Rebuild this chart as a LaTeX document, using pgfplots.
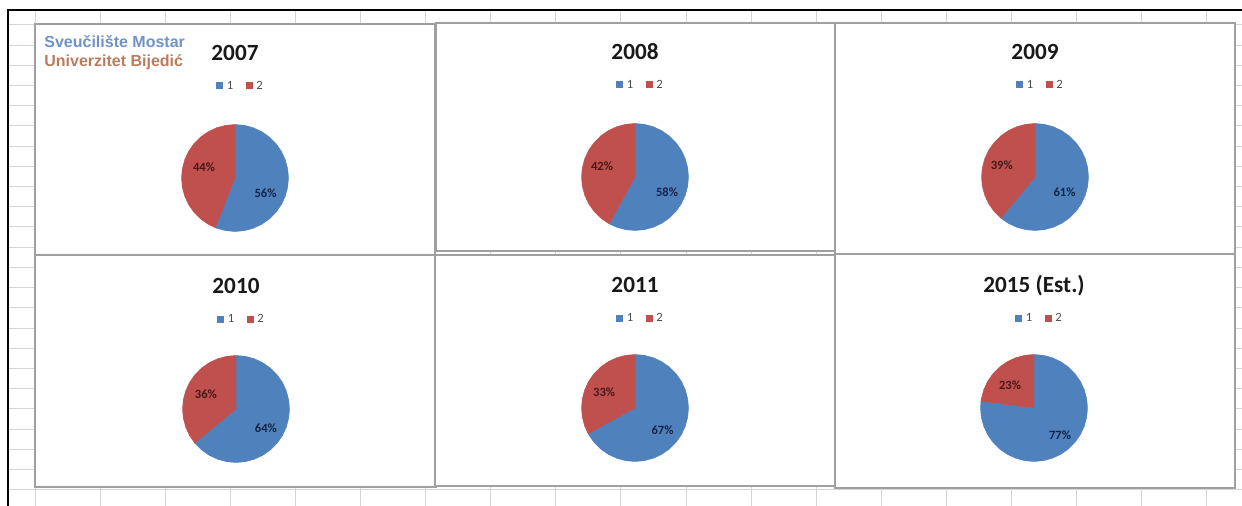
\documentclass[border=0pt]{standalone}
\usepackage{pgfplots}
\pgfplotsset{compat=1.18}
\usepgfplotslibrary{polar}
\usepackage{fontspec}
\setmainfont{Carlito}
\newfontfamily\arialf{Liberation Sans}
\definecolor{pieblue}{RGB}{79,129,189}
\definecolor{piered}{RGB}{192,80,77}
\definecolor{txtblue}{RGB}{112,146,198}
\definecolor{txtbrown}{RGB}{186,124,94}
\definecolor{gridc}{RGB}{212,212,212}
\definecolor{boxc}{RGB}{160,160,160}
\definecolor{lblr}{RGB}{70,25,25}
\definecolor{lblb}{RGB}{20,35,70}
\newcommand\lbl{\bfseries\fontsize{6.3}{7}\selectfont}
\pgfplotsset{
  pie/.style={scale only axis, width=53.5pt, height=53.5pt, hide axis,
    ymin=0, ymax=1, clip=false, anchor=center,
    title style={font=\bfseries\fontsize{11.6}{12}\selectfont, anchor=base, inner sep=0pt, text=black!90},
    legend style={draw=none, fill=none, anchor=center,
      font=\fontsize{6.3}{7}\selectfont, text=black!70, legend columns=2,
      /tikz/every odd column/.append style={column sep=1.2pt},
      /tikz/every even column/.append style={column sep=5.5pt},
      inner sep=0pt, nodes={inner sep=0.8pt}},
    legend image code/.code={\fill[##1] (0pt,-0.8pt) rectangle (3pt,2.2pt);},
  },
  sb/.style={fill=pieblue, draw=pieblue, line width=0.2pt},
  sr/.style={fill=piered, draw=piered, line width=0.2pt},
}
\begin{document}
\begin{tikzpicture}
% spreadsheet background, frame, chart boxes (coordinates in reference pixels)
\begin{axis}[at={(0,0)}, anchor=north west, scale only axis, width=621pt, height=253pt,
  xmin=0, xmax=1242, ymin=0, ymax=506, y dir=reverse, clip=false,
  axis line style={draw=none}, tick style={draw=none},
  xticklabels={}, yticklabels={},
  xtick={35,100.1,165.2,230.3,295.4,360.5,425.6,490.7,555.8,620.9,686,751.1,816.2,881.3,946.4,1011.5,1076.6,1141.7,1206.8},
  ytick={25,45.2,65.4,85.6,105.8,126,146.2,166.4,186.6,206.8,227,247.2,267.4,287.6,307.8,328,348.2,368.4,388.6,408.8,429,449.2,469.4,489.6},
  grid=major, major grid style={gridc, line width=0.5pt}]
\fill[white] (axis cs:0,0) rectangle (axis cs:1242,10);
\fill[white] (axis cs:0,0) rectangle (axis cs:8,506);
\draw[line width=0.8pt, black] (axis cs:8,506) -- (axis cs:8,10) -- (axis cs:1242,10);
\draw[fill=white, draw=boxc, line width=0.8pt] (axis cs:35,24) rectangle (axis cs:435,255);
\draw[fill=white, draw=boxc, line width=0.8pt] (axis cs:436,23) rectangle (axis cs:835,251);
\draw[fill=white, draw=boxc, line width=0.8pt] (axis cs:835,23) rectangle (axis cs:1235,254);
\draw[fill=white, draw=boxc, line width=0.8pt] (axis cs:35,255) rectangle (axis cs:436,487);
\draw[fill=white, draw=boxc, line width=0.8pt] (axis cs:435,255) rectangle (axis cs:835,486);
\draw[fill=white, draw=boxc, line width=0.8pt] (axis cs:835,254) rectangle (axis cs:1235,488);
\node[anchor=base west, inner sep=0pt, text=txtblue, font=\arialf\bfseries\fontsize{8}{9}\selectfont] at (axis cs:44,48) {Sveučilište Mostar};
\node[anchor=base west, inner sep=0pt, text=txtbrown, font=\arialf\bfseries\fontsize{8}{9}\selectfont] at (axis cs:44,67) {Univerzitet Bijedić};
\coordinate (c1) at (axis cs:235,178);
\coordinate (c2) at (axis cs:635,177);
\coordinate (c3) at (axis cs:1035,177);
\coordinate (c4) at (axis cs:236,409);
\coordinate (c5) at (axis cs:635,408);
\coordinate (c6) at (axis cs:1034,408);
\end{axis}

% 2007
\begin{polaraxis}[pie, at={(c1)}, title={2007}, title style={at={(0.5,1.329)}},
  legend style={at={(0.55,1.35)}}]
\addplot[sb] coordinates {(0,0) (90,1) (80,1) (70,1) (60,1) (50,1) (40,1) (30,1) (20,1) (10,1) (0,1) (-10,1) (-20,1) (-30,1) (-40,1) (-50,1) (-60,1) (-70,1) (-80,1) (-90,1) (-100,1) (-110,1) (-111.6,1) (0,0)};
\addlegendentry{1}
\addplot[sr] coordinates {(0,0) (-111.6,1) (-120,1) (-130,1) (-140,1) (-150,1) (-160,1) (-170,1) (-180,1) (-190,1) (-200,1) (-210,1) (-220,1) (-230,1) (-240,1) (-250,1) (-260,1) (-270,1) (0,0)};
\addlegendentry{2}
\node[font=\lbl, text=lblr] at (axis cs:160.5,0.615) {44\%};
\node[font=\lbl, text=lblb] at (axis cs:-26.2,0.635) {56\%};
\end{polaraxis}

% 2008
\begin{polaraxis}[pie, at={(c2)}, title={2008}, title style={at={(0.5,1.329)}},
  legend style={at={(0.55,1.35)}}]
\addplot[sb] coordinates {(0,0) (90,1) (80,1) (70,1) (60,1) (50,1) (40,1) (30,1) (20,1) (10,1) (0,1) (-10,1) (-20,1) (-30,1) (-40,1) (-50,1) (-60,1) (-70,1) (-80,1) (-90,1) (-100,1) (-110,1) (-118.8,1) (0,0)};
\addlegendentry{1}
\addplot[sr] coordinates {(0,0) (-118.8,1) (-120,1) (-130,1) (-140,1) (-150,1) (-160,1) (-170,1) (-180,1) (-190,1) (-200,1) (-210,1) (-220,1) (-230,1) (-240,1) (-250,1) (-260,1) (-270,1) (0,0)};
\addlegendentry{2}
\node[font=\lbl, text=lblr] at (axis cs:161.6,0.65) {42\%};
\node[font=\lbl, text=lblb] at (axis cs:-25.1,0.66) {58\%};
\end{polaraxis}

% 2009
\begin{polaraxis}[pie, at={(c3)}, title={2009}, title style={at={(0.5,1.329)}},
  legend style={at={(0.55,1.35)}}]
\addplot[sb] coordinates {(0,0) (90,1) (80,1) (70,1) (60,1) (50,1) (40,1) (30,1) (20,1) (10,1) (0,1) (-10,1) (-20,1) (-30,1) (-40,1) (-50,1) (-60,1) (-70,1) (-80,1) (-90,1) (-100,1) (-110,1) (-120,1) (-129.6,1) (0,0)};
\addlegendentry{1}
\addplot[sr] coordinates {(0,0) (-129.6,1) (-130,1) (-140,1) (-150,1) (-160,1) (-170,1) (-180,1) (-190,1) (-200,1) (-210,1) (-220,1) (-230,1) (-240,1) (-250,1) (-260,1) (-270,1) (0,0)};
\addlegendentry{2}
\node[font=\lbl, text=lblr] at (axis cs:160,0.66) {39\%};
\node[font=\lbl, text=lblb] at (axis cs:-27,0.62) {61\%};
\end{polaraxis}

% 2010
\begin{polaraxis}[pie, at={(c4)}, title={2010}, title style={at={(0.5,1.313)}},
  legend style={at={(0.55,1.33)}}]
\addplot[sb] coordinates {(0,0) (90,1) (80,1) (70,1) (60,1) (50,1) (40,1) (30,1) (20,1) (10,1) (0,1) (-10,1) (-20,1) (-30,1) (-40,1) (-50,1) (-60,1) (-70,1) (-80,1) (-90,1) (-100,1) (-110,1) (-120,1) (-130,1) (-140,1) (-140.4,1) (0,0)};
\addlegendentry{1}
\addplot[sr] coordinates {(0,0) (-140.4,1) (-150,1) (-160,1) (-170,1) (-180,1) (-190,1) (-200,1) (-210,1) (-220,1) (-230,1) (-240,1) (-250,1) (-260,1) (-270,1) (0,0)};
\addlegendentry{2}
\node[font=\lbl, text=lblr] at (axis cs:153.4,0.63) {36\%};
\node[font=\lbl, text=lblb] at (axis cs:-32.3,0.66) {64\%};
\end{polaraxis}

% 2011
\begin{polaraxis}[pie, at={(c5)}, title={2011}, title style={at={(0.5,1.313)}},
  legend style={at={(0.55,1.33)}}]
\addplot[sb] coordinates {(0,0) (90,1) (80,1) (70,1) (60,1) (50,1) (40,1) (30,1) (20,1) (10,1) (0,1) (-10,1) (-20,1) (-30,1) (-40,1) (-50,1) (-60,1) (-70,1) (-80,1) (-90,1) (-100,1) (-110,1) (-120,1) (-130,1) (-140,1) (-150,1) (-151.2,1) (0,0)};
\addlegendentry{1}
\addplot[sr] coordinates {(0,0) (-151.2,1) (-160,1) (-170,1) (-180,1) (-190,1) (-200,1) (-210,1) (-220,1) (-230,1) (-240,1) (-250,1) (-260,1) (-270,1) (0,0)};
\addlegendentry{2}
\node[font=\lbl, text=lblr] at (axis cs:152.7,0.65) {33\%};
\node[font=\lbl, text=lblb] at (axis cs:-38.7,0.66) {67\%};
\end{polaraxis}

% 2015 (Est.)
\begin{polaraxis}[pie, at={(c6)}, title={2015 (Est.)}, title style={at={(0.5,1.313)}},
  legend style={at={(0.55,1.33)}}]
\addplot[sb] coordinates {(0,0) (90,1) (80,1) (70,1) (60,1) (50,1) (40,1) (30,1) (20,1) (10,1) (0,1) (-10,1) (-20,1) (-30,1) (-40,1) (-50,1) (-60,1) (-70,1) (-80,1) (-90,1) (-100,1) (-110,1) (-120,1) (-130,1) (-140,1) (-150,1) (-160,1) (-170,1) (-180,1) (-187.2,1) (0,0)};
\addlegendentry{1}
\addplot[sr] coordinates {(0,0) (-187.2,1) (-190,1) (-200,1) (-210,1) (-220,1) (-230,1) (-240,1) (-250,1) (-260,1) (-270,1) (0,0)};
\addlegendentry{2}
\node[font=\lbl, text=lblr] at (axis cs:136.2,0.62) {23\%};
\node[font=\lbl, text=lblb] at (axis cs:-46.1,0.70) {77\%};
\end{polaraxis}
\pgfresetboundingbox
\path (0,0) rectangle (621pt,-253pt);
\end{tikzpicture}
\end{document}
